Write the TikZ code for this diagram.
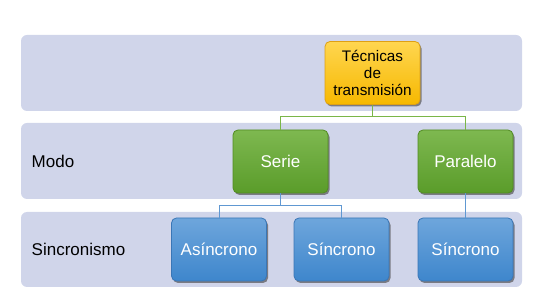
\documentclass[tikz,border=0pt]{standalone}
\usepackage{fontspec}
\setmainfont{Liberation Sans}
\usetikzlibrary{shadows}
\definecolor{bandfill}{RGB}{208,213,234}
\definecolor{ytop}{RGB}{255,214,80}
\definecolor{ybot}{RGB}{246,184,0}
\definecolor{yline}{RGB}{222,160,20}
\definecolor{gtop}{RGB}{126,184,80}
\definecolor{gbot}{RGB}{90,156,42}
\definecolor{gline}{RGB}{82,140,34}
\definecolor{btop}{RGB}{110,166,220}
\definecolor{bbot}{RGB}{62,134,204}
\definecolor{bline}{RGB}{58,118,182}
\definecolor{glink}{RGB}{122,182,72}
\definecolor{blink}{RGB}{96,152,210}

\begin{document}
\begin{tikzpicture}[x=1pt, y=-1pt, line width=.8pt,
  band/.style={fill=bandfill, rounded corners=6pt},
  box/.style={rounded corners=5pt, minimum width=95pt, minimum height=63pt, inner sep=2pt,
    align=center, font=\fontsize{17}{20}\selectfont, text=white,
    drop shadow={shadow xshift=1.5pt, shadow yshift=-2pt, opacity=.65, fill=black!70}},
  rootbox/.style={box, draw=yline, top color=ytop, bottom color=ybot, text=black,
    font=\fontsize{15.3}{17}\selectfont},
  modebox/.style={box, draw=gline, top color=gtop, bottom color=gbot},
  syncbox/.style={box, draw=bline, top color=btop, bottom color=bbot},
  rowlabel/.style={anchor=west, font=\fontsize{17}{20}\selectfont}]
  \useasboundingbox (0,0) rectangle (544,304);
  % the three rows
  \path[band] (21,35) rectangle (522,111);
  \path[band] (21,123) rectangle (522,199);
  \path[band] (21,212) rectangle (522,287);
  \node[rowlabel] (modo) at (28,161) {Modo};
  \node[rowlabel] (sinc) at (28,249) {Sincronismo};
  % boxes
  \node[rootbox] (tec) at (372.5,73) {Técnicas\\de\\transmisión};
  \node[modebox] (serie) at (280.5,161.5) {Serie};
  \node[modebox] (par) at (465.5,161.5) {Paralelo};
  \node[syncbox] (asin) at (219,249.5) {Asíncrono};
  \node[syncbox] (sin) at (341.5,249.5) {Síncrono};
  \node[syncbox] (sinp) at (465.5,249.5) {Síncrono};
  % links
  \draw[glink] (tec.south) -- ++(0,12) -| (serie.north);
  \draw[glink] (tec.south) -- ++(0,12) -| (par.north);
  \draw[blink] (serie.south) -- ++(0,12) -| (asin.north);
  \draw[blink] (serie.south) -- ++(0,12) -| (sin.north);
  \draw[blink] (par.south) -- (sinp.north);
\end{tikzpicture}
\end{document}
